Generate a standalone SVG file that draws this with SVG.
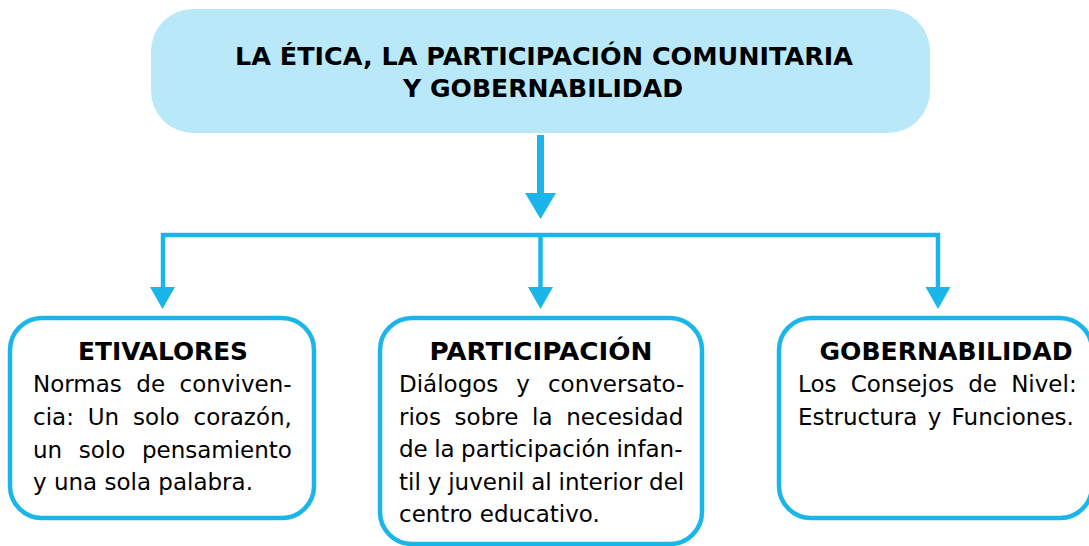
<svg xmlns="http://www.w3.org/2000/svg" width="1089" height="546" viewBox="0 0 1089 546">
<style>
.box{fill:#fff;stroke:#1ab6ea;stroke-width:4.5}
.head{font-family:"DejaVu Sans",Verdana,sans-serif;font-weight:bold;font-size:24.5px;fill:#000}
.body{font-family:"DejaVu Sans",Verdana,sans-serif;font-size:23px;fill:#000}
.title{font-family:"DejaVu Sans",Verdana,sans-serif;font-weight:bold;font-size:24.5px;fill:#000}
.ln{fill:none;stroke:#1ab6ea;stroke-width:4.5}
.ah{fill:#1ab6ea}
</style>
<rect width="1089" height="546" fill="#fff"/>
<g id="connectors">
<rect class="ah" x="537" y="135" width="7" height="60"/>
<polygon class="ah" points="525,193 556,193 540.5,219"/>
<polyline class="ln" points="163,290 163,235 938,235 938,290"/>
<line class="ln" x1="540.5" y1="235" x2="540.5" y2="290"/>
<polygon class="ah" points="150,287 175,287 162.5,309"/>
<polygon class="ah" points="528,287 553,287 540.5,309"/>
<polygon class="ah" points="925.5,287 950.5,287 938,309"/>
</g>
<g id="root">
<rect x="151" y="9" width="779" height="124" rx="42" fill="#b9e9f8"/>
<text class="title" x="544" y="65" text-anchor="middle" textLength="618" lengthAdjust="spacingAndGlyphs">LA ÉTICA, LA PARTICIPACIÓN COMUNITARIA</text>
<text class="title" x="543" y="97" text-anchor="middle" textLength="280" lengthAdjust="spacingAndGlyphs">Y GOBERNABILIDAD</text>
</g>
<g id="etivalores">
<rect class="box" x="10" y="318" width="304" height="200" rx="32"/>
<text class="head" x="163" y="360" text-anchor="middle" textLength="170" lengthAdjust="spacingAndGlyphs">ETIVALORES</text>
<text class="body" x="33" y="392" word-spacing="7.2">Normas de conviven-</text>
<text class="body" x="33" y="425" word-spacing="6.6">cia: Un solo corazón,</text>
<text class="body" x="33" y="458" word-spacing="9.3">un solo pensamiento</text>
<text class="body" x="33" y="490">y una sola palabra.</text>
</g>
<g id="participacion">
<rect class="box" x="380" y="318" width="322" height="226" rx="32"/>
<text class="head" x="541" y="360" text-anchor="middle" textLength="223" lengthAdjust="spacingAndGlyphs">PARTICIPACIÓN</text>
<text class="body" x="399" y="392" word-spacing="10.7">Diálogos y conversato-</text>
<text class="body" x="399" y="425" word-spacing="6.4">rios sobre la necesidad</text>
<text class="body" x="399" y="457" word-spacing="-0.9">de la participación infan-</text>
<text class="body" x="399" y="490" word-spacing="-0.4">til y juvenil al interior del</text>
<text class="body" x="399" y="522">centro educativo.</text>
</g>
<g id="gobernabilidad">
<rect class="box" x="779" y="318" width="313" height="200" rx="32"/>
<text class="head" x="946" y="360" text-anchor="middle" textLength="253" lengthAdjust="spacingAndGlyphs">GOBERNABILIDAD</text>
<text class="body" x="798" y="392" word-spacing="6.9">Los Consejos de Nivel:</text>
<text class="body" x="798" y="425" word-spacing="3">Estructura y Funciones.</text>
</g>
</svg>
